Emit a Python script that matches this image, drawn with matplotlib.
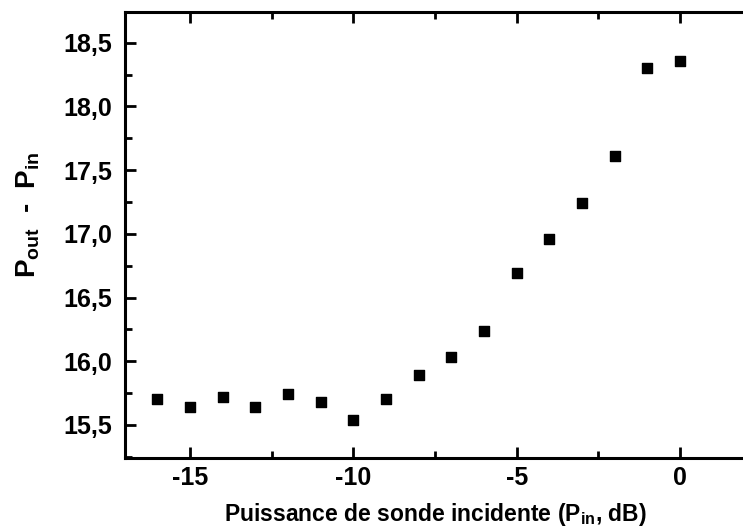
import matplotlib
matplotlib.use('Agg')
import matplotlib.pyplot as plt
from matplotlib.ticker import FuncFormatter, MultipleLocator

# data
p_in = [-16, -15, -14, -13, -12, -11, -10, -9, -8, -7, -6, -5, -4, -3, -2, -1, 0]
gain = [15.70, 15.64, 15.72, 15.64, 15.74, 15.68, 15.54, 15.70, 15.89, 16.03,
        16.24, 16.69, 16.96, 17.24, 17.61, 18.30, 18.36]

plt.rcParams['font.family'] = 'Liberation Sans'
plt.rcParams['font.weight'] = 'bold'
plt.rcParams['mathtext.fontset'] = 'custom'
plt.rcParams['mathtext.rm'] = 'Liberation Sans:bold'
plt.rcParams['mathtext.bf'] = 'Liberation Sans:bold'
plt.rcParams['mathtext.it'] = 'Liberation Sans:bold'

fig = plt.figure(figsize=(7.43, 5.31), dpi=100)
ax = fig.add_axes([0.168, 0.1375, 0.835, 0.8395])

ax.scatter(p_in, gain, marker='s', s=50, color='black', zorder=3)

ax.set_xlim(-17, 2)
ax.set_ylim(15.24, 18.74)
ax.xaxis.set_major_locator(MultipleLocator(5))
ax.xaxis.set_minor_locator(MultipleLocator(2.5))
ax.yaxis.set_major_locator(MultipleLocator(0.5))
ax.yaxis.set_minor_locator(MultipleLocator(0.25))
ax.yaxis.set_major_formatter(FuncFormatter(lambda v, p: ('%.1f' % v).replace('.', ',')))
ax.xaxis.set_major_formatter(FuncFormatter(lambda v, p: '%d' % v))

for s in ax.spines.values():
    s.set_linewidth(2.2)
ax.tick_params(which='both', direction='in', top=True, right=False, width=2)
ax.tick_params(which='major', length=8, labelsize=18)
ax.tick_params(axis='x', which='major', pad=6)
ax.tick_params(axis='y', which='major', pad=9)
ax.tick_params(which='minor', length=5)
for lab in ax.get_xticklabels() + ax.get_yticklabels():
    lab.set_fontweight('bold')

ax.set_xlabel(r'Puissance de sonde incidente (P$_{in}$, dB)', fontsize=16.5,
              fontweight='bold', labelpad=8)
ax.set_ylabel(r'P$_{out}$  -  P$_{in}$', fontsize=20, fontweight='bold')
ax.yaxis.set_label_coords(-0.133, 0.545)

fig.savefig('out.png', dpi=100)
